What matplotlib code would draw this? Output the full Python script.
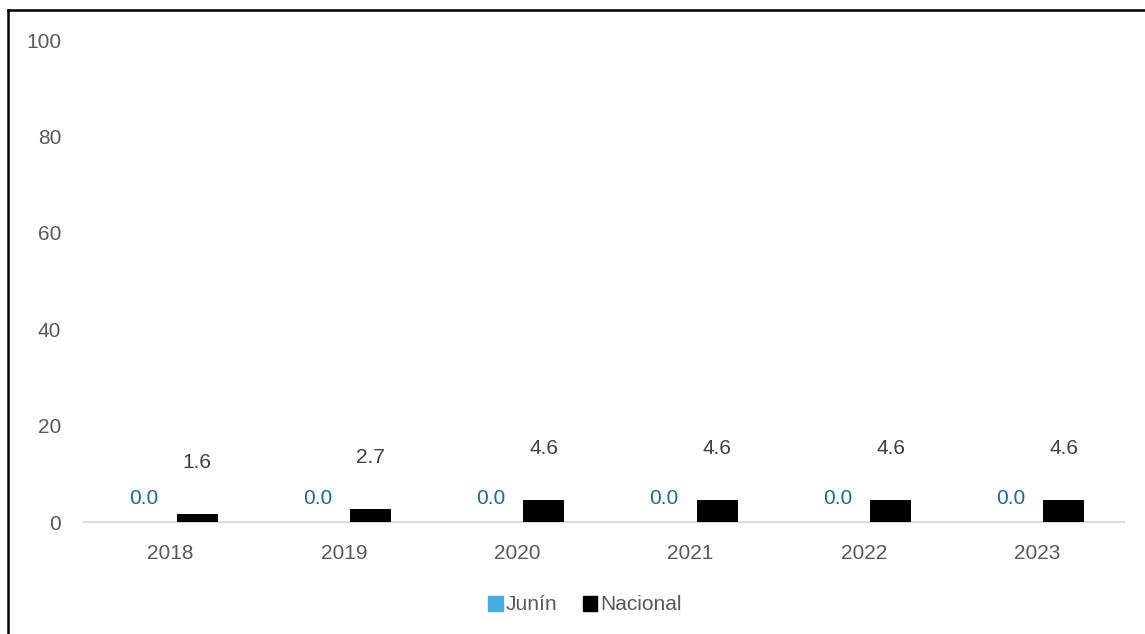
import matplotlib
matplotlib.use("Agg")
import matplotlib.pyplot as plt
import numpy as np
from matplotlib.lines import Line2D
from matplotlib.patches import Patch

years = ["2018", "2019", "2020", "2021", "2022", "2023"]
junin = [0.0, 0.0, 0.0, 0.0, 0.0, 0.0]
nacional = [1.6, 2.7, 4.6, 4.6, 4.6, 4.6]

plt.rcParams['font.family'] = ['Liberation Sans', 'DejaVu Sans']

W, H = 1145, 634
fig = plt.figure(figsize=(W / 100, H / 100), dpi=100)
ax = fig.add_axes([84 / W, (H - 522) / H, (1124 - 84) / W, (522 - 40) / H])

x = np.arange(len(years))
bw = 0.237
off = 0.153
c_j = "#4AADE0"
c_n = "#000000"
ax.bar(x - off, junin, bw, color=c_j, zorder=3)
ax.bar(x + off, nacional, bw, color=c_n, zorder=3)

fs = 15
for xi, v in zip(x, junin):
    ax.annotate(f"{v:.1f}", (xi - off, v), xytext=(0, 17), textcoords="offset points",
                ha="center", va="center", fontsize=fs, color="#1D6A8C")
for xi, v in zip(x, nacional):
    ax.annotate(f"{v:.1f}", (xi + off, v), xytext=(0, 37), textcoords="offset points",
                ha="center", va="center", fontsize=fs, color="#404040")

ax.set_xlim(-0.5, len(years) - 0.5)
ax.set_ylim(0, 100)
ax.set_yticks([0, 20, 40, 60, 80, 100])
ax.set_xticks(x)
ax.set_xticklabels(years)
ax.tick_params(axis="both", length=0, labelsize=fs, labelcolor="#595959")
ax.tick_params(axis="y", pad=16.5)
ax.tick_params(axis="x", pad=16)
for s in ["top", "right", "left"]:
    ax.spines[s].set_visible(False)
ax.spines["bottom"].set_color("#D9D9D9")
ax.spines["bottom"].set_linewidth(1.5)

handles = [Patch(color=c_j, label="Junín"), Patch(color=c_n, label="Nacional")]
leg = fig.legend(handles=handles, loc="center", bbox_to_anchor=(585 / W, (H - 605) / H),
                 ncol=2, frameon=False, fontsize=15, handlelength=0.7, handleheight=0.7,
                 handletextpad=0.15, columnspacing=1.2, labelcolor="#595959")

# figure frame (top and left visible)
fig.add_artist(Line2D([7.5 / W, 7.5 / W], [0, (H - 10) / H], color="black", lw=1.8,
                      transform=fig.transFigure))
fig.add_artist(Line2D([7.5 / W, 1], [(H - 10) / H, (H - 10) / H], color="black", lw=1.8,
                      transform=fig.transFigure))

fig.savefig("out.png", dpi=100, facecolor="white")
